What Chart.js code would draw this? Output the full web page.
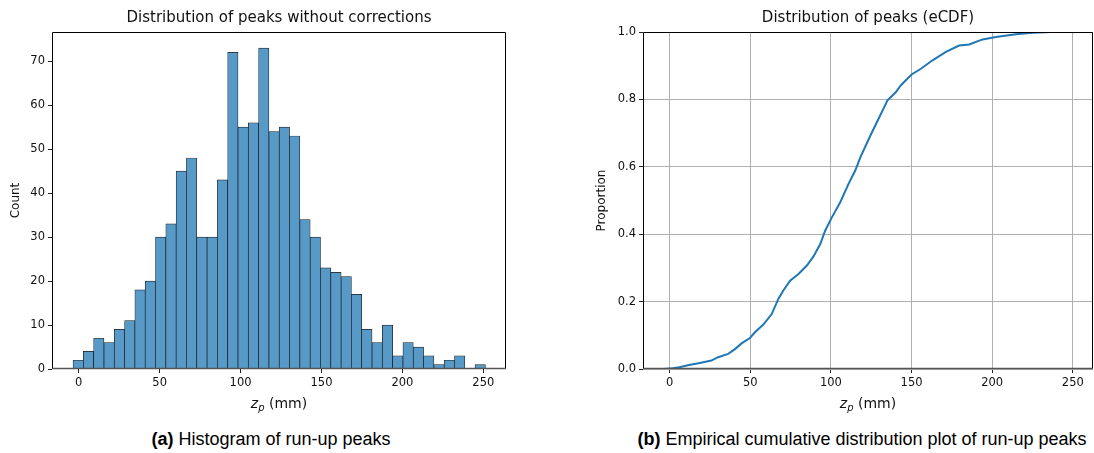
<!DOCTYPE html>
<html>
<head>
<meta charset="utf-8">
<script src="https://cdn.jsdelivr.net/npm/chart.js@4.4.1/dist/chart.umd.min.js"></script>
<style>
  html, body { margin:0; padding:0; background:#fff; }
  body { width:1094px; height:453px; position:relative; overflow:hidden; }
  #c1 { position:absolute; left:0; top:0; }
  #c2 { position:absolute; left:560px; top:0; }
  .cap { position:absolute; top:429px; font-family:"Liberation Sans", Arial, sans-serif; font-size:18px; color:#000; white-space:nowrap; transform:translateX(-50%); }
</style>
</head>
<body>
<canvas id="c1" width="520" height="420"></canvas>
<canvas id="c2" width="534" height="420"></canvas>
<div class="cap" style="left:271px"><b>(a)</b> Histogram of run-up peaks</div>
<div class="cap" style="left:862px"><b>(b)</b> Empirical cumulative distribution plot of run-up peaks</div>
<script>
// ---------- data ----------
const histTitle = "Distribution of peaks without corrections";
const ecdfTitle = "Distribution of peaks (eCDF)";
const binStart = -3.5;
const binWidth = 6.37;
const histCounts = [2,4,7,6,9,11,18,20,30,33,45,48,30,30,43,72,55,56,73,54,
                    55,53,34,30,23,22,21,17,9,6,10,3,6,5,3,1,2,3,0,1];
const histYTicks = [0,10,20,30,40,50,60,70];
const xTicks = [0,50,100,150,200,250];
const ecdfX = [-3.5,2,6,12,18.7,25.9,30.1,36.3,40.5,44.6,49.8,52.9,58.1,63.3,67.4,70.5,74.7,79.9,85.1,89.2,
               93.4,96.5,100.6,105.8,111.0,115.1,118.3,124.5,135.1,140.3,143.4,150,155.8,163.0,171.3,179.5,
               185.7,194.0,202.3,214.7,225.0,236.4,251.1];
const ecdfY = [0,0.002,0.005,0.012,0.018,0.025,0.035,0.045,0.059,0.076,0.092,0.109,0.132,0.163,0.208,0.233,
               0.262,0.282,0.307,0.334,0.371,0.411,0.450,0.495,0.550,0.589,0.629,0.693,0.797,0.822,0.842,
               0.874,0.891,0.916,0.941,0.960,0.963,0.978,0.985,0.993,0.998,1.0,1.0];
const ecdfYTicks = [0,0.2,0.4,0.6,0.8,1.0];

// ---------- helpers ----------
const FONT = '"DejaVu Sans", sans-serif';
const TXT = '#111';
const TICK_SIZE = 11.5;

const decorPlugin = {
  id: 'decor',
  afterDraw(chart, args, opts) {
    const {ctx, chartArea: a} = chart;
    ctx.save();
    const l = Math.round(a.left) + 0.5, r = Math.round(a.right) - 0.5;
    const t = Math.round(a.top) + 0.5, b = Math.round(a.bottom) - 0.5;
    ctx.lineWidth = 1;
    ctx.strokeStyle = '#000';
    ctx.beginPath();
    ctx.moveTo(l, b); ctx.lineTo(l, t); ctx.lineTo(r, t); ctx.lineTo(r, b);
    ctx.stroke();
    ctx.strokeStyle = '#555';
    ctx.lineWidth = 1.4;
    ctx.beginPath(); ctx.moveTo(a.left, b); ctx.lineTo(a.right, b); ctx.stroke();
    // title
    ctx.fillStyle = TXT;
    ctx.textAlign = 'center';
    ctx.textBaseline = 'alphabetic';
    ctx.font = '15px ' + FONT;
    const cx = (a.left + a.right) / 2;
    ctx.fillText(opts.title, cx, 22);
    // x label: italic z with subscript p, then " (mm)"
    const fz = 'italic 14px ' + FONT, fp = 'italic 10px ' + FONT, fm = '14px ' + FONT;
    ctx.textAlign = 'left';
    ctx.font = fz; const wz = ctx.measureText('z').width;
    ctx.font = fp; const wp = ctx.measureText('p').width;
    ctx.font = fm; const wm = ctx.measureText(' (mm)').width;
    let x = cx - (wz + wp + wm) / 2;
    const y = 408;
    ctx.font = fz; ctx.fillText('z', x, y); x += wz;
    ctx.font = fp; ctx.fillText('p', x, y + 3); x += wp;
    ctx.font = fm; ctx.fillText(' (mm)', x, y);
    ctx.restore();
  }
};

function fixedTicks(vals) {
  return function(scale) { scale.ticks = vals.map(v => ({value: v})); };
}

// ---------- histogram ----------
const histData = histCounts.map((c, i) => ({x: binStart + binWidth * (i + 0.5), y: c}));
new Chart(document.getElementById('c1'), {
  type: 'bar',
  data: { datasets: [{
    data: histData,
    backgroundColor: '#5799c7',
    borderColor: '#1c1c1c',
    borderWidth: 0.7,
    borderSkipped: false,
    barPercentage: 1.0,
    categoryPercentage: 1.0
  }]},
  options: {
    responsive: false,
    animation: false,
    layout: { padding: { top: 32, right: 14, left: 0, bottom: 0 } },
    plugins: { legend: {display:false}, tooltip: {enabled:false}, title: {display:false},
               decor: { title: histTitle } },
    scales: {
      x: {
        type: 'linear', min: -16.5, max: 264, offset: false,
        afterBuildTicks: fixedTicks(xTicks),
        afterFit(s) { s.height = 51; },
        grid: { offset: false, drawOnChartArea: false, drawTicks: true, tickLength: 4, tickColor: '#222' },
        border: { display: false },
        ticks: { font: {family: FONT, size: TICK_SIZE}, color: TXT, padding: 3, maxRotation: 0 }
      },
      y: {
        min: 0, max: 76.65,
        afterBuildTicks: fixedTicks(histYTicks),
        afterFit(s) { s.width = 52; },
        grid: { drawOnChartArea: false, drawTicks: true, tickLength: 4, tickColor: '#222' },
        border: { display: false },
        ticks: { font: {family: FONT, size: TICK_SIZE}, color: TXT, padding: 3 },
        title: { display: true, text: 'Count', font: {family: FONT, size: 12}, color: TXT, padding: {top: 9, bottom: 0} }
      }
    }
  },
  plugins: [decorPlugin]
});

// ---------- eCDF ----------
const ecdfData = ecdfX.map((x, i) => ({x: x, y: ecdfY[i]}));
new Chart(document.getElementById('c2'), {
  type: 'line',
  data: { datasets: [{
    data: ecdfData,
    borderColor: '#1f77b4',
    borderWidth: 2,
    pointRadius: 0,
    tension: 0,
    fill: false
  }]},
  options: {
    responsive: false,
    animation: false,
    layout: { padding: { top: 32, right: 1, left: 0, bottom: 0 } },
    plugins: { legend: {display:false}, tooltip: {enabled:false}, title: {display:false},
               decor: { title: ecdfTitle } },
    scales: {
      x: {
        type: 'linear', min: -16.5, max: 262.5,
        afterBuildTicks: fixedTicks(xTicks),
        afterFit(s) { s.height = 51; },
        grid: { color: '#b0b0b0', lineWidth: 1, drawTicks: true, tickLength: 4, tickColor: '#222' },
        border: { display: false },
        ticks: { font: {family: FONT, size: TICK_SIZE}, color: TXT, padding: 3, maxRotation: 0 }
      },
      y: {
        min: 0, max: 1,
        afterBuildTicks: fixedTicks(ecdfYTicks),
        afterFit(s) { s.width = 83; },
        grid: { color: '#b0b0b0', lineWidth: 1, drawTicks: true, tickLength: 4, tickColor: '#222' },
        border: { display: false },
        ticks: { font: {family: FONT, size: TICK_SIZE}, color: TXT, padding: 3, callback: v => v.toFixed(1) },
        title: { display: true, text: 'Proportion', font: {family: FONT, size: 12}, color: TXT, padding: {top: 35, bottom: 0} }
      }
    }
  },
  plugins: [decorPlugin]
});
</script>
</body>
</html>
